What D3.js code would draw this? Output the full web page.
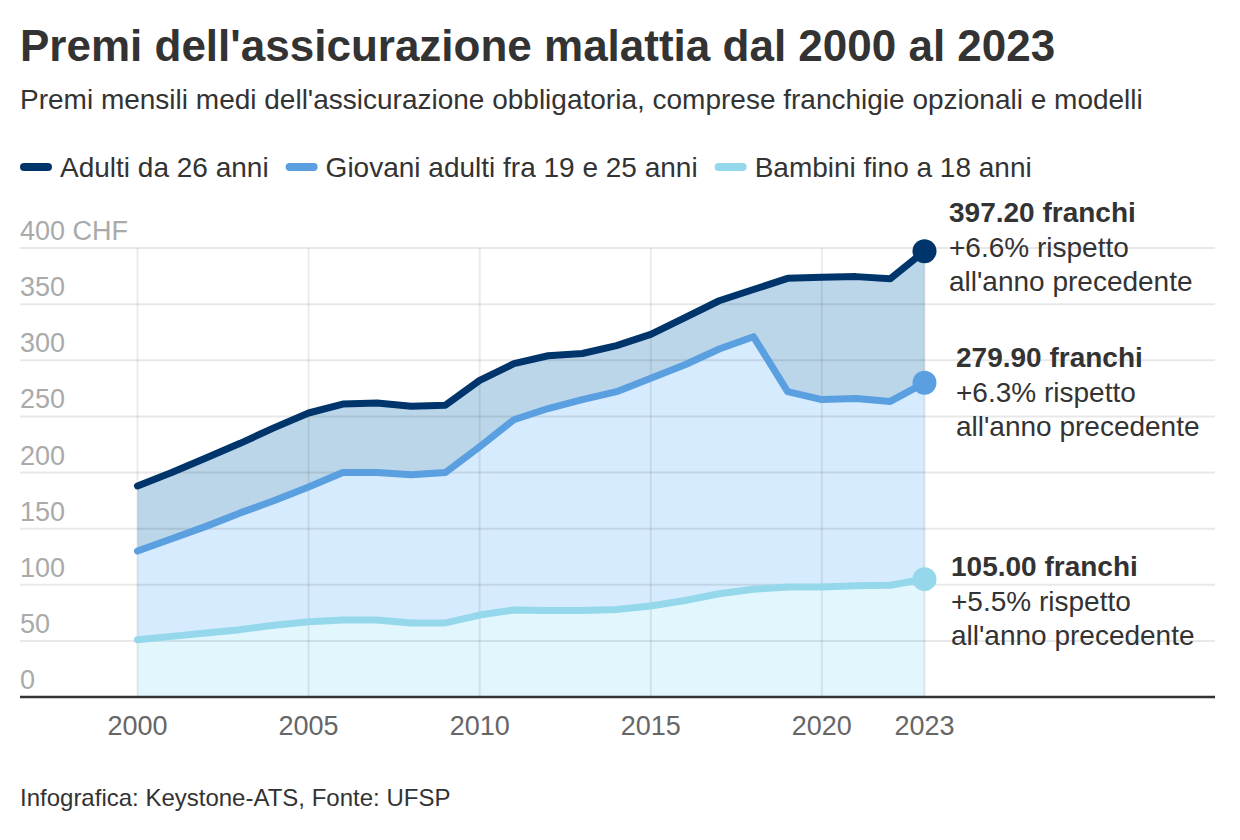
<!DOCTYPE html>
<html>
<head>
<meta charset="utf-8">
<script src="https://cdn.jsdelivr.net/npm/d3@7"></script>
<style>
  body { margin: 0; background: #fff; }
  svg text { font-family: "Liberation Sans", Arial, sans-serif; }
</style>
</head>
<body>
<div id="chart"></div>
<script>
// DATA ----------------------------------------------
const years = d3.range(2000, 2024);
const adulti = [188, 200, 213, 226, 240, 253, 261, 262, 259, 260, 282, 297, 304, 306, 313, 323, 338, 353, 363, 373, 374, 374.5, 372.6, 397.2];
const giovani = [130, 141, 152, 164, 175, 187, 200, 200, 198, 200, 223, 247, 257, 265, 272, 284, 296, 310, 321, 272, 265, 266, 263.3, 279.9];
const bambini = [51, 54, 57, 60, 64, 67, 68.5, 68.5, 66, 66, 73, 77.5, 77, 77, 78, 81, 86, 92, 96, 98, 98, 99, 99.5, 105];
const seriesNames = ["Adulti da 26 anni", "Giovani adulti fra 19 e 25 anni", "Bambini fino a 18 anni"];
const yTicks = [0, 50, 100, 150, 200, 250, 300, 350, 400];
const xTicks = [2000, 2005, 2010, 2015, 2020, 2023];
const annotations = [
  ["397.20 franchi", "+6.6% rispetto", "all'anno precedente"],
  ["279.90 franchi", "+6.3% rispetto", "all'anno precedente"],
  ["105.00 franchi", "+5.5% rispetto", "all'anno precedente"],
];

const colors = ["#00356b", "#5a9fe0", "#95d8ec"];
const fills = ["#bcd6e9", "#d6ebfd", "#e2f6fd"];

const W = 1240, H = 840;
const svg = d3.select("#chart").append("svg").attr("width", W).attr("height", H);

svg.append("text").attr("x", 20).attr("y", 61)
  .attr("font-size", 44).attr("font-weight", "bold").attr("fill", "#333")
  .text("Premi dell'assicurazione malattia dal 2000 al 2023");
svg.append("text").attr("x", 20).attr("y", 109)
  .attr("font-size", 28).attr("fill", "#333")
  .text("Premi mensili medi dell'assicurazione obbligatoria, comprese franchigie opzionali e modelli");

// legend
let lx = 20;
seriesNames.forEach((name, i) => {
  svg.append("line").attr("x1", lx + 4).attr("x2", lx + 28).attr("y1", 167).attr("y2", 167)
    .attr("stroke", colors[i]).attr("stroke-width", 8).attr("stroke-linecap", "round");
  const t = svg.append("text").attr("x", lx + 40).attr("y", 177)
    .attr("font-size", 28).attr("fill", "#333").text(name);
  lx += 40 + t.node().getComputedTextLength() + 17;
});

const x = d3.scaleLinear().domain([2000, 2023]).range([137.5, 924.5]);
const y = d3.scaleLinear().domain([0, 400]).range([697, 248]);

const data = years.map((yr, i) => ({ yr, a: adulti[i], g: giovani[i], b: bambini[i] }));

// areas
const bands = [["a", "g"], ["g", "b"], ["b", null]];
bands.forEach(([top, bot], i) => {
  svg.append("path").datum(data)
    .attr("fill", fills[i])
    .attr("d", d3.area().x((d) => x(d.yr)).y1((d) => y(d[top])).y0((d) => bot ? y(d[bot]) : y(0)));
});

// grid
svg.append("g").selectAll("line").data(yTicks.filter((d) => d > 0)).enter().append("line")
  .attr("x1", 20).attr("x2", 1215).attr("y1", (d) => y(d)).attr("y2", (d) => y(d))
  .attr("stroke", "#000").attr("stroke-opacity", 0.09).attr("stroke-width", 2);
svg.append("g").selectAll("line").data(xTicks).enter().append("line")
  .attr("x1", (d) => x(d)).attr("x2", (d) => x(d)).attr("y1", y(400)).attr("y2", y(0))
  .attr("stroke", "#000").attr("stroke-opacity", 0.08).attr("stroke-width", 2);

svg.append("g").selectAll("text").data(yTicks).enter().append("text")
  .attr("x", 20).attr("y", (d) => y(d) - 8)
  .attr("font-size", 27).attr("fill", "#aaa")
  .text((d) => d === 400 ? "400 CHF" : d);

svg.append("line").attr("x1", 20).attr("x2", 1215).attr("y1", y(0)).attr("y2", y(0))
  .attr("stroke", "#333").attr("stroke-width", 2.5);

svg.append("g").selectAll("text").data(xTicks).enter().append("text")
  .attr("x", (d) => x(d)).attr("y", 735).attr("text-anchor", "middle")
  .attr("font-size", 27).attr("fill", "#666").text((d) => d);

// lines, bottom series first
["b", "g", "a"].forEach((key) => {
  const c = colors[["a", "g", "b"].indexOf(key)];
  svg.append("path").datum(data)
    .attr("fill", "none").attr("stroke", c).attr("stroke-width", 7)
    .attr("stroke-linejoin", "round").attr("stroke-linecap", "round")
    .attr("d", d3.line().x((d) => x(d.yr)).y((d) => y(d[key])));
});

const last = data[data.length - 1];
["a", "g", "b"].forEach((k, i) => {
  svg.append("circle").attr("cx", x(last.yr)).attr("cy", y(last[k])).attr("r", 12).attr("fill", colors[i]);
});

// annotations
const annX = [949, 956, 951];
const annY = [222, 367, 576];
annotations.forEach((lines, i) => {
  lines.forEach((s, j) => {
    svg.append("text").attr("x", annX[i]).attr("y", annY[i] + j * 34.5)
      .attr("font-size", 28).attr("fill", "#333")
      .attr("font-weight", j === 0 ? "bold" : "normal").text(s);
  });
});

svg.append("text").attr("x", 20).attr("y", 806)
  .attr("font-size", 24).attr("fill", "#333")
  .text("Infografica: Keystone-ATS, Fonte: UFSP");
</script>
</body>
</html>
